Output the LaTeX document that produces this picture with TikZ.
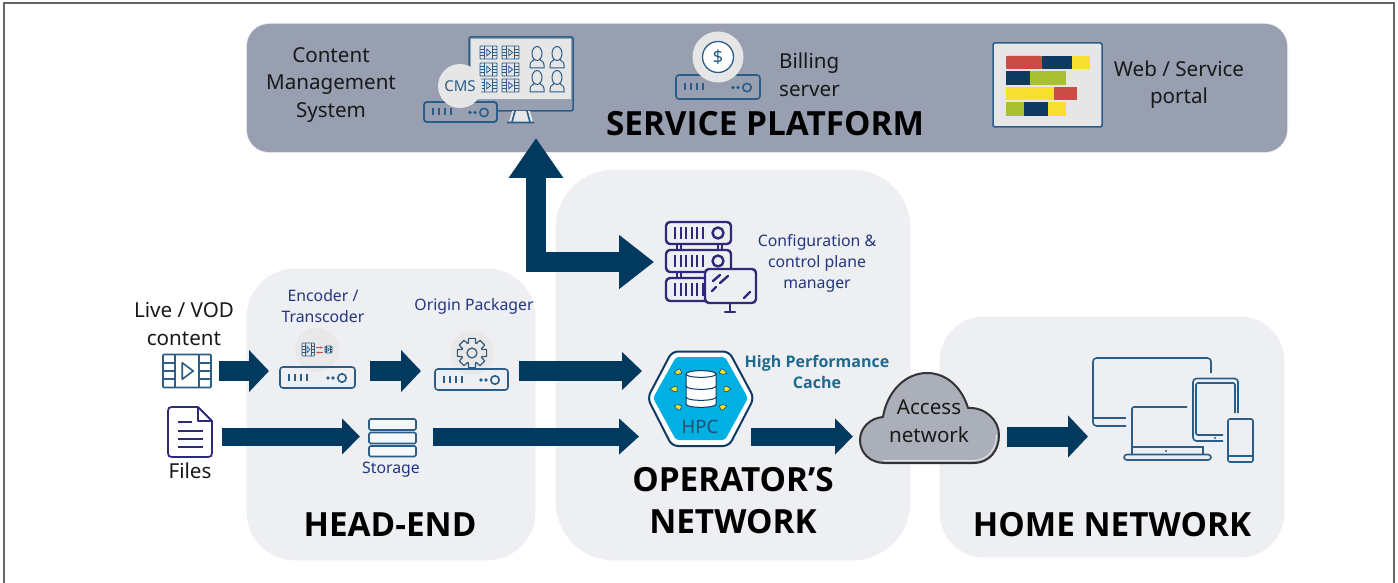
\documentclass[tikz,border=0pt]{standalone}
\usepackage{fontspec}
\setmainfont{Noto Sans}
\newfontfamily\headfont{Open Sans}[BoldFont={Open Sans Bold}]
\usetikzlibrary{arrows.meta,calc}
\definecolor{frameC}{HTML}{666666}
\definecolor{platC}{HTML}{979FB0}
\definecolor{zoneC}{HTML}{EDEFF2}
\definecolor{arrowC}{HTML}{023A5F}
\definecolor{iconC}{HTML}{2A5D88}
\definecolor{plumC}{HTML}{2E2A78}
\definecolor{labelC}{HTML}{23367E}
\definecolor{tealC}{HTML}{1F6A8F}
\definecolor{discC}{HTML}{E6E6E6}
\definecolor{redC}{HTML}{CB4B45}
\definecolor{navyC}{HTML}{0E3A63}
\definecolor{yelC}{HTML}{F6DF2E}
\definecolor{grnC}{HTML}{A9C030}
\definecolor{cyanC}{HTML}{00B0E2}
\definecolor{cloudC}{HTML}{ABAFB9}
\tikzset{
  x=1pt,y=-1pt,
  zone/.style={fill=zoneC,draw=black!6,line width=0.8pt},
  blk/.style={draw=arrowC,fill=arrowC,line width=20pt,-{Triangle[length=20pt,width=41pt,fill=arrowC]}},
  blkthin/.style={draw=arrowC,fill=arrowC,line width=18pt,-{Triangle[length=18pt,width=35pt,fill=arrowC]}},
  ico/.style={draw=iconC,line width=1.6pt,line join=round},
  plum/.style={draw=plumC,line width=2.4pt,line join=round,line cap=round},
  anchorbox/.style={inner sep=0pt,outer sep=0pt,draw=none,fill=none},
  titletxt/.style={font=\headfont\fontsize{33.3}{42}\selectfont,text=black,align=center,inner sep=0pt},
  bigtxt/.style={font=\fontsize{20.6}{27.5}\selectfont,text=black!90,align=center,inner sep=0pt},
  smalltxt/.style={font=\fontsize{15.8}{21}\selectfont,text=labelC,align=center,inner sep=0pt},
  cachetxt/.style={font=\headfont\fontsize{16}{21}\selectfont,text=tealC,align=center,inner sep=0pt},
}
\newcommand{\hotbox}[5]{\node[anchorbox,minimum width=#4pt,minimum height=#5pt] (#1) at (#2,#3) {};}
% server box: x0 y0 x1 y1
\newcommand{\srvbox}[4]{%
  \draw[ico,rounded corners=3pt] (#1,#2) rectangle (#3,#4);
  \foreach \k in {0,1,2,3}{\draw[ico] ({#1+9+\k*6},{(#2+#4)/2-3.5}) -- ++(0,7);}
  \fill[iconC] ({#3-27},{(#2+#4)/2+0.5}) circle (1.9pt) ({#3-22},{(#2+#4)/2+0.5}) circle (1.9pt);
  \draw[ico] ({#3-13},{(#2+#4)/2+0.5}) circle (4.2pt);}
% film strip: x y w h
\newcommand{\filmstrip}[5][ico]{%
  \begin{scope}[shift={(#2,#3)}]
    \draw[#1,rounded corners=0.8pt] (0,0) rectangle (#4,#5);
    \draw[#1] ({#4*.25},0) -- ({#4*.25},#5) ({#4*.75},0) -- ({#4*.75},#5);
    \foreach \f in {.25,.5,.75}{\draw[#1] (0,{#5*\f}) -- ({#4*.25},{#5*\f}) ({#4*.75},{#5*\f}) -- (#4,{#5*\f});}
    \draw[#1] ({#4*.4},{#5*.25}) -- ({#4*.63},{#5*.5}) -- ({#4*.4},{#5*.75}) -- cycle;
  \end{scope}}
\newcommand{\personicon}[2]{%
  \begin{scope}[shift={(#1,#2)}]
    \draw[draw=iconC,line width=1pt,fill=discC] (4,13) .. controls (4,15) and (0,15) .. (0,19) -- (0,22) -- (14,22) -- (14,19) .. controls (14,15) and (10,15) .. (10,13) -- cycle;
    \draw[draw=iconC,line width=1pt,fill=discC] (7,7.5) ellipse (5pt and 7pt);
  \end{scope}}
\newcommand{\tinyarrow}[3]{%
  \begin{scope}[shift={(#1,#2)},rotate=#3]
    \draw[draw=navyC,line width=.5pt,fill=yelC] (-3,-2.3) -- (.5,-2.3) -- (4,0) -- (.5,2.3) -- (-3,2.3) -- cycle;
  \end{scope}}
\begin{document}
\begin{tikzpicture}
\useasboundingbox (0,0) rectangle (1398,583);
\fill[white] (0,0) rectangle (1398,583);
% frame
\coordinate (fa) at (4,583); \coordinate (fb) at (4,3); \coordinate (fc) at (1394,3); \coordinate (fd) at (1394,583);
\draw[frameC,line width=2.2pt] (fa) -- (fb) -- (fc) -- (fd);
% zones
\draw[draw=black!10,line width=2pt,rounded corners=23pt] (247,24) rectangle (1287,152);
\path[fill=platC,rounded corners=22pt] (247,24) rectangle (1287,152);
\draw[zone,rounded corners=48pt] (247,269) rectangle (535,560);
\draw[zone,rounded corners=58pt] (556,170) rectangle (910,560);
\draw[zone,rounded corners=44pt] (940,317) rectangle (1284,557);
% anchors
\hotbox{platform}{767}{88}{1040}{128}
\hotbox{video}{187}{371}{48}{33}
\hotbox{files}{190}{432}{44}{50}
\hotbox{enc}{317.5}{377.5}{75}{21}
\hotbox{pack}{471.5}{379.5}{73}{21}
\hotbox{store}{392.5}{436.5}{47}{37}
\hotbox{cfg}{711}{267}{90}{90}
\hotbox{hpc}{700.5}{398}{107}{95}
\hotbox{cloud}{929.5}{418}{139}{90}
\hotbox{devices}{1173}{410}{160}{104}
\coordinate (corner) at (536,262);
% connectors
\draw[blk,line cap=rect,-{Triangle[length=40pt,width=52pt,fill=arrowC]},shorten >=-14pt] (corner) -- (corner |- platform.south);
\draw[blk,-{Triangle[length=35pt,width=52pt,fill=arrowC]},shorten >=12pt] (corner) -- (corner -| cfg.west);
\draw[blk,shorten <=8pt,shorten >=11pt] (video.east) -- (video.east -| enc.west);
\draw[blk,shorten <=15pt,shorten >=14pt] (enc.east |- video.east) -- (pack.west |- video.east);
\draw[blk,shorten <=11pt,shorten >=5pt,-{Triangle[length=20pt,width=37pt,fill=arrowC]}] (pack.east |- video.east) -- (hpc.west |- video.east);
\draw[blkthin,shorten <=10pt,shorten >=9pt] (files.east |- store.west) -- (store.west);
\draw[blkthin,shorten <=17pt,shorten >=8pt,-{Triangle[length=20pt,width=35pt,fill=arrowC]}] (store.east) -- (store.east -| hpc.west);
\draw[blkthin,shorten <=-3pt,shorten >=7pt] (hpc.east |- store.east) -- (store.east -| cloud.west);
\draw[blk,shorten <=8pt,shorten >=5pt] (cloud.east |- store.east) -- (store.east -| devices.west);

% CMS icon
\draw[draw=iconC,line width=1.5pt,fill=platC,rounded corners=1.5pt] (469,37) rectangle (573,111);
\fill[discC] (471,39) rectangle (571,99);
\foreach \cx in {480,502}{\foreach \cy in {46,63,79}{\filmstrip[draw=iconC,line width=.8pt]{\cx}{\cy}{17}{13}}}
\personicon{530}{46}\personicon{550}{46}\personicon{530}{70}\personicon{550}{70}
\fill[discC] (512,111) -- (530,111) -- (533,122) -- (509,122) -- cycle;
\draw[ico] (515,111) -- (512,122) (527,111) -- (530,122) (507,122.5) -- (534,122.5);
\draw[ico,fill=platC,rounded corners=3pt] (424,102) rectangle (497,122);
\srvbox{424}{102}{497}{122}
\fill[discC] (460,86) circle (22pt);
\node[font=\fontsize{15}{15}\selectfont,text=iconC,inner sep=0pt] (cmslogo) at (460,86) {CMS};
\node[bigtxt] (cmstxt) at (331,85) {Content\\Management\\System};
% Billing
\srvbox{676}{75}{760}{99}
\fill[discC] (718,57) circle (25.5pt);
\draw[draw=iconC,line width=1.3pt,fill=white] (718,57) circle (15.5pt);
\node[font=\fontsize{18}{18}\selectfont,text=iconC,inner sep=0pt] (dollar) at (718,57) {\$};
\node[bigtxt,align=left,anchor=west] (billtxt) at (779,75) {Billing\\server};
% Portal
\draw[draw=iconC,line width=1.5pt,fill=discC,rounded corners=1.5pt] (993,43) rectangle (1102,127);
\fill[redC,rounded corners=.8pt] (1006,56) rectangle (1042,69);
\fill[navyC] (1042,56) rectangle (1072,69);
\fill[yelC] (1072,56) rectangle (1090,69);
\fill[navyC] (1006,71) rectangle (1030,85);
\fill[grnC] (1030,71) rectangle (1066,85);
\fill[yelC] (1006,87) rectangle (1054,100);
\fill[redC] (1054,87) rectangle (1077,100);
\fill[grnC] (1006,102) rectangle (1024,116);
\fill[navyC] (1024,102) rectangle (1048,116);
\fill[yelC] (1048,102) rectangle (1066,116);
\node[bigtxt] (webtxt) at (1179,84.5) {Web / Service\\portal};
\node[titletxt] (plattitle) at (765,124) {\bfseries SERVICE PLATFORM};

% Left inputs
\node[bigtxt] (livetxt) at (184,324) {Live / VOD\\content};
\filmstrip{163}{354.5}{48}{33}
\draw[draw=plumC,line width=1.8pt,line join=round] (198,407) -- (172,407) .. controls (169,407) and (168,408) .. (168,411) -- (168,453) .. controls (168,456) and (169,457) .. (172,457) -- (208,457) .. controls (211,457) and (212,456) .. (212,453) -- (212,421) -- (198,407) -- (198,421) -- (212,421);
\draw[draw=plumC,line width=1.8pt] (178,422) -- (192,422) (178,431) -- (203,431) (178,439) -- (203,439) (178,447) -- (203,447);
\node[bigtxt] (filestxt) at (190,471) {Files};
% Encoder
\fill[black!9] (317,350) circle (22pt);
\filmstrip[draw=iconC,line width=.7pt]{302}{343}{12.5}{13}
\filmstrip[draw=iconC,line width=.6pt]{325}{346}{7}{7}
\draw[redC,line width=1pt,-{Stealth[length=3pt]}] (316,347.5) -- (323,347.5);
\draw[redC,line width=1pt,{Stealth[length=3pt]}-] (316,352.5) -- (323,352.5);
\srvbox{280}{367}{355}{388}
\node[smalltxt] (enctxt) at (323,306) {Encoder /\\Transcoder};
% Packager
\fill[black!9] (472,353) circle (22pt);
\draw[draw=navyC!85,line width=1.2pt,line join=round] (472,353) ++(-13:15) \foreach \a in {0,45,90,135,180,225,270,315}{ -- ($(472,353)+(\a-13:15)$) -- ($(472,353)+(\a+13:15)$) -- ($(472,353)+(\a+20:10.5)$) -- ($(472,353)+(\a+25:10.5)$)} -- cycle;
\draw[draw=navyC!85,line width=1.2pt] (472,353) circle (5pt);
\srvbox{435}{369}{508}{390}
\node[smalltxt] (packtxt) at (474,306) {Origin Packager};
% Storage
\draw[ico,fill=zoneC!50!white,rounded corners=1.5pt] (369,419) rectangle (416,430);
\draw[ico,fill=zoneC!50!white,rounded corners=1.5pt] (369,432.5) rectangle (416,443.5);
\draw[ico,fill=zoneC!50!white,rounded corners=1.5pt] (369,446) rectangle (416,456.5);
\node[smalltxt] (storetxt) at (391,470) {Storage};
\node[titletxt] (headtitle) at (390,525) {\bfseries HEAD-END};

% Config manager
\foreach \ya/\yb in {222/244,250/272,278/301}{
  \draw[plum,rounded corners=4pt] (666,\ya) rectangle (731,\yb);
  \foreach \gx in {675,680.6,686.2,691.8,697.4,703}{\draw[plum,line cap=butt,line width=2pt] (\gx,{\ya+5}) -- (\gx,{\yb-5});}
  \draw[plum] (718,{(\ya+\yb)/2}) circle (5.5pt);
}
\draw[plum,line width=1.6pt] (677,244) -- (677,250) (681,244) -- (681,250) (677,272) -- (677,278) (681,272) -- (681,278) (718,244) -- (718,250) (722,244) -- (722,250);
\draw[plum,fill=zoneC,rounded corners=4pt] (705,269) rectangle (756,303);
\draw[plum] (730,303) -- (730,312) (725,312) -- (735,312);
\draw[plum] (713,281) -- (720,275) (720,283) -- (728,276) (712,291) -- (716,287) (744,298) -- (750,292);
\node[smalltxt] (cfgtxt) at (817,263.5) {Configuration \&\\control plane\\manager};
% HPC
\draw[draw=navyC,line width=2pt,fill=white,rounded corners=6pt,line join=round] (647.5,398) -- (672,351.5) -- (729,351.5) -- (754,398) -- (729,446) -- (672,446) -- cycle;
\fill[cyanC,rounded corners=3pt] (653,398) -- (676,357) -- (725,357) -- (748,398) -- (725,440) -- (676,440) -- cycle;
\draw[draw=navyC,line width=1pt,fill=white] (686,374) -- (686,404) .. controls (686,408.5) and (716,408.5) .. (716,404) -- (716,374) .. controls (716,369.5) and (686,369.5) .. (686,374) -- cycle;
\draw[draw=navyC,line width=1pt] (686,374) .. controls (686,378.5) and (716,378.5) .. (716,374) (686,386) .. controls (686,390.5) and (716,390.5) .. (716,386) (686,397) .. controls (686,401.5) and (716,401.5) .. (716,397);
\tinyarrow{678}{372}{200}\tinyarrow{674}{389}{180}\tinyarrow{678}{407}{160}
\tinyarrow{723}{372}{-20}\tinyarrow{727}{389}{0}\tinyarrow{723}{407}{20}
\node[font=\fontsize{18.5}{18.5}\selectfont,text=navyC!90,inner sep=0pt] (hpctxt) at (700,427) {HPC};
\node[cachetxt] (cachetxt) at (817,371.5) {\bfseries High Performance\\\bfseries Cache};
\node[titletxt] (optitle) at (733,501) {\bfseries OPERATOR’S\\\bfseries NETWORK};
% Cloud
\draw[draw=black!80,line width=2pt,fill=cloudC,line join=round] (885,463) -- (973,463) .. controls (990,463) and (999,450) .. (999,435) .. controls (999,420) and (985,407) .. (968,408) .. controls (962,388) and (947,373) .. (927,373) .. controls (905,373) and (887,392) .. (883,417) .. controls (870,418) and (860,428) .. (860,440) .. controls (860,453) and (870,463) .. (885,463) -- cycle;
\draw[draw=white!70!cloudC,line width=1pt,line cap=round] (883,460.5) -- (973,460.5) .. controls (988,460.5) and (996.5,449) .. (996.5,435);
\node[bigtxt] (cloudtxt) at (929,421) {Access\\network};
% Devices
\draw[ico,rounded corners=3.5pt] (1211,373) -- (1211,358) -- (1093,358) -- (1093,426) -- (1126,426);
\draw[ico] (1094,418) -- (1126,418);
\draw[ico,rounded corners=3.5pt] (1238,413) -- (1238,378.5) -- (1193,378.5) -- (1193,441) -- (1223,441);
\draw[ico,rounded corners=1.5pt] (1235,413) -- (1235,383) -- (1196,383) -- (1196,435) -- (1223,435);
\fill[iconC] (1215,438) circle (1.2pt);
\draw[ico,rounded corners=2pt] (1228,419) rectangle (1253,462);
\draw[ico] (1228,456) -- (1253,456);
\draw[ico,rounded corners=1.5pt] (1187,407) -- (1132,407) -- (1132,455);
\draw[ico,rounded corners=3pt] (1124,454.5) rectangle (1211,460);
\draw[ico] (1132,447) -- (1203,447) (1203,446) -- (1203,454);
\fill[iconC] (1166,451) circle (1.2pt);
\node[titletxt] (hometitle) at (1112,525) {\bfseries HOME NETWORK};
\end{tikzpicture}
\end{document}
